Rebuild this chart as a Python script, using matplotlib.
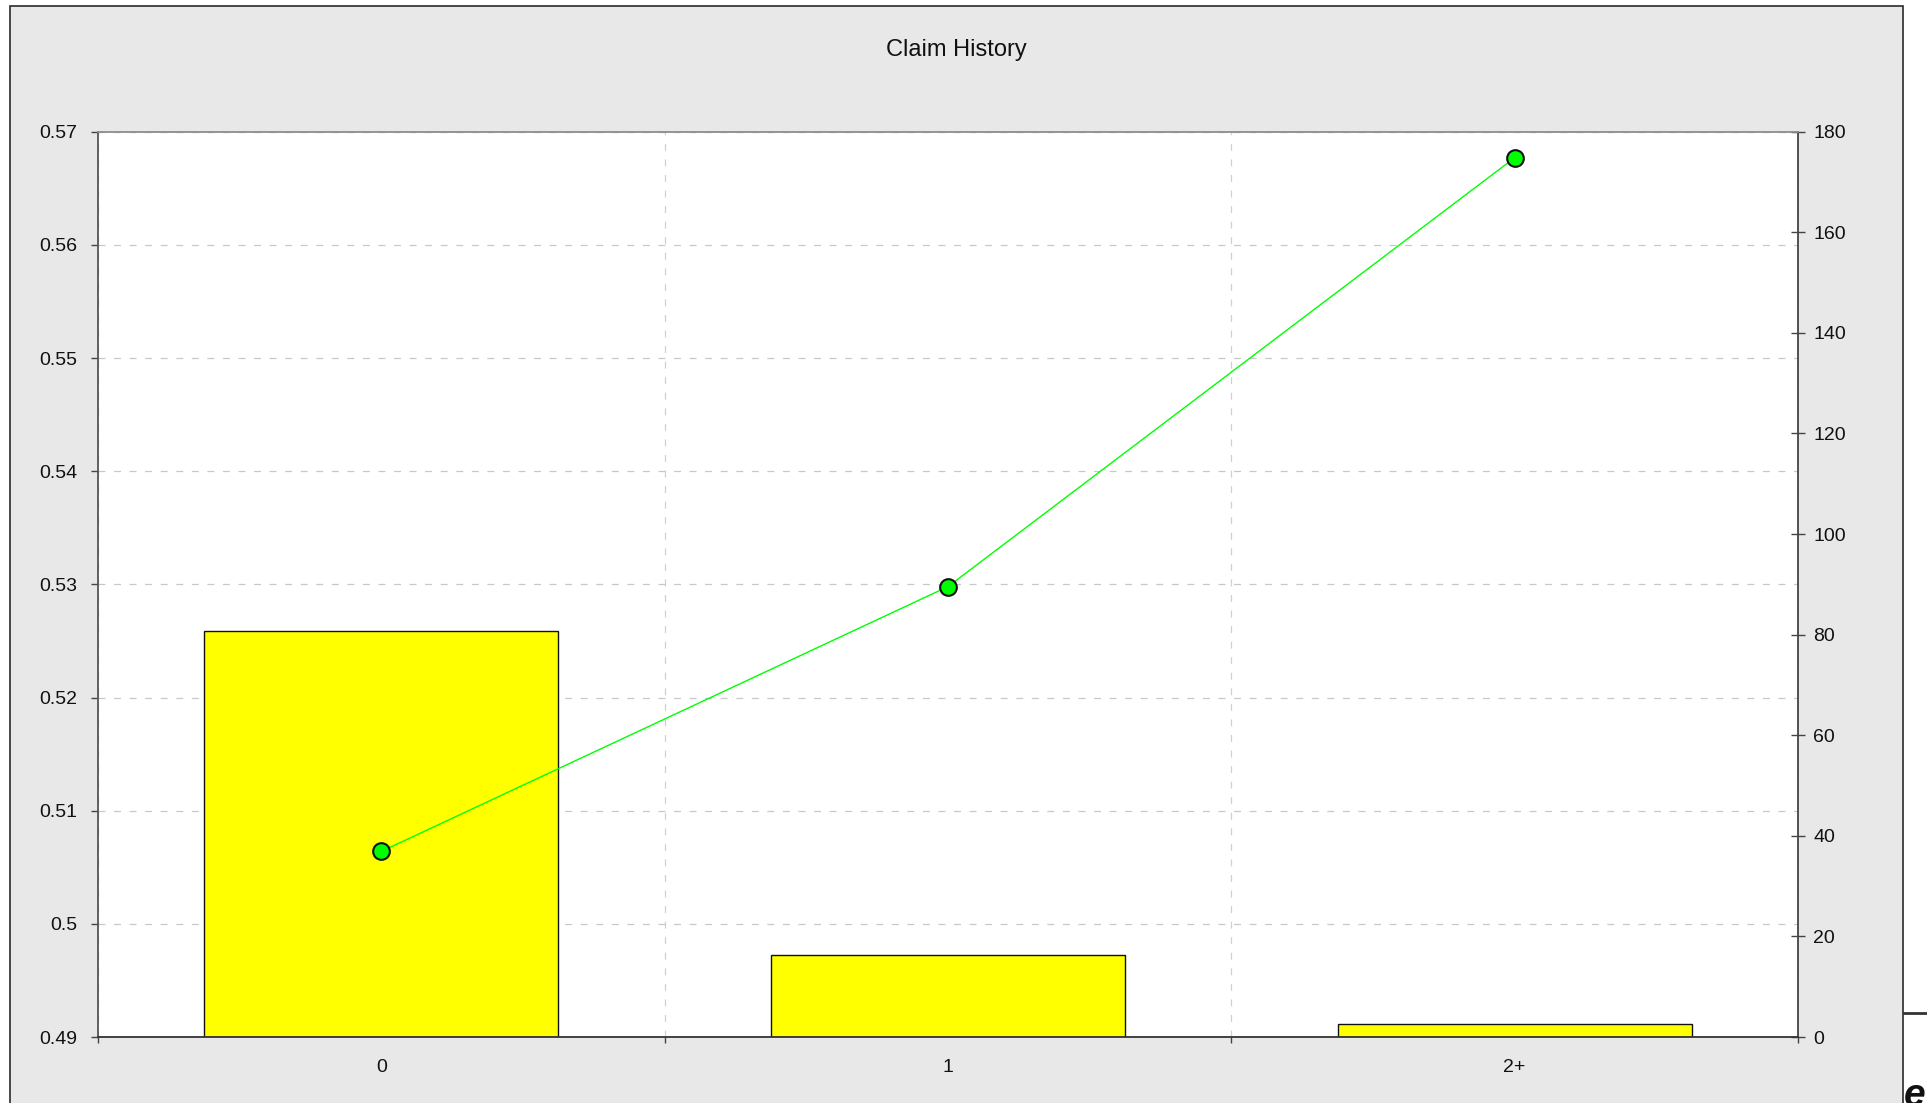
import matplotlib
matplotlib.use("Agg")
import matplotlib.pyplot as plt
from matplotlib.patches import Rectangle
from matplotlib.lines import Line2D
import numpy as np

plt.rcParams['font.family'] = ['Liberation Sans', 'DejaVu Sans']
plt.rcParams['lines.scale_dashes'] = False

# Data
categories = ["0", "1", "2+"]
exposure_pct = [80.8, 16.25, 2.65]          # bars, right axis
observed = [0.5064, 0.5298, 0.5677]         # line, left axis
left_ticks = [0.49, 0.50, 0.51, 0.52, 0.53, 0.54, 0.55, 0.56, 0.57]
right_ticks = [0, 20, 40, 60, 80, 100, 120, 140, 160, 180]

W, H = 1927, 1103
fig = plt.figure(figsize=(W / 100, H / 100), dpi=100, facecolor="white")

# grey chart panel with dark border
panel = Rectangle((9.5 / W, -0.02), (1903.3 - 9.5) / W, 1.02 - 5.7 / H,
                  transform=fig.transFigure, facecolor="#e8e8e8",
                  edgecolor="#2a2a2a", linewidth=1.2, zorder=0)
fig.patches.append(panel)

# small fragment at the right edge
fig.lines.append(Line2D([1904 / W, 1.0], [1 - 1013.3 / H] * 2,
                        transform=fig.transFigure, color="#333333", lw=2.0))
fig.text(1903.5 / W, 1 - 1106 / H, "e", fontsize=28, fontweight="bold",
         fontstyle="italic", ha="left", va="baseline", color="#111111")

fig.text(956 / W, 1 - 55.7 / H, "Claim History", ha="center", va="baseline",
         fontsize=17, color="#111111")

rect = [98 / W, 1 - 1037 / H, (1798 - 98) / W, (1037 - 131.7) / H]
x = np.arange(len(categories))
tick_fs = 14

# base axes: left scale, grid, white background
ax = fig.add_axes(rect, zorder=1)
ax.set_facecolor("white")
ax.set_xlim(-0.5, len(categories) - 0.5)
ax.set_ylim(0.49, 0.57)
ax.set_yticks(left_ticks)
ax.set_yticklabels([f"{t:g}" for t in left_ticks])
ax.set_xticks(np.arange(-0.5, len(categories), 1.0))
ax.set_xticklabels([])
ax.set_xticks(x, minor=True)
ax.set_xticklabels(categories, minor=True)
ax.tick_params(axis="x", which="major", direction="out", length=4.5, width=1.0,
               color="#444444")
ax.tick_params(axis="x", which="minor", length=0, pad=16, labelsize=tick_fs,
               labelcolor="#111111")
ax.tick_params(axis="y", direction="out", length=5, width=1.0, pad=10,
               labelsize=tick_fs, color="#444444", labelcolor="#111111")
ax.grid(True, axis="y", color="#c8c8c8", linestyle=(0, (5, 6.2)), linewidth=0.9)
ax.grid(True, axis="x", which="major", color="#d0d0d0",
        linestyle=(0, (5, 6.2)), linewidth=0.9)
for side in ["top", "right", "bottom", "left"]:
    ax.spines[side].set_visible(False)

# bars on the right scale
ax2 = ax.twinx()
ax2.set_zorder(2)
ax2.patch.set_visible(False)
ax2.bar(x, exposure_pct, width=0.625, color="#ffff00", edgecolor="#111111",
        linewidth=1.0)
ax2.set_ylim(0, 180)
ax2.set_yticks(right_ticks)
ax2.tick_params(axis="y", direction="inout", length=10, width=1.0, pad=6,
                labelsize=tick_fs, color="#444444", labelcolor="#111111")
for side in ["top", "left", "bottom"]:
    ax2.spines[side].set_visible(False)
ax2.spines["right"].set_color("#444444")
ax2.spines["right"].set_linewidth(1.3)

# line on the left scale, drawn on top
ax3 = ax.twinx()
ax3.set_zorder(3)
ax3.patch.set_visible(False)
ax3.set_ylim(ax.get_ylim())
ax3.plot(x, observed, color="#00ff00", linewidth=1.0, marker="o",
         markersize=12, markerfacecolor="#00ff00", markeredgecolor="#111111",
         markeredgewidth=1.5)
ax3.set_yticks([])
ax3.spines["top"].set_color("#8c8c8c")
ax3.spines["top"].set_linewidth(1.3)
ax3.spines["left"].set_color("#555555")
ax3.spines["left"].set_linewidth(1.3)
ax3.spines["bottom"].set_color("#333333")
ax3.spines["bottom"].set_linewidth(1.3)
ax3.spines["right"].set_visible(False)

fig.savefig("out.png", dpi=100, facecolor="white")
